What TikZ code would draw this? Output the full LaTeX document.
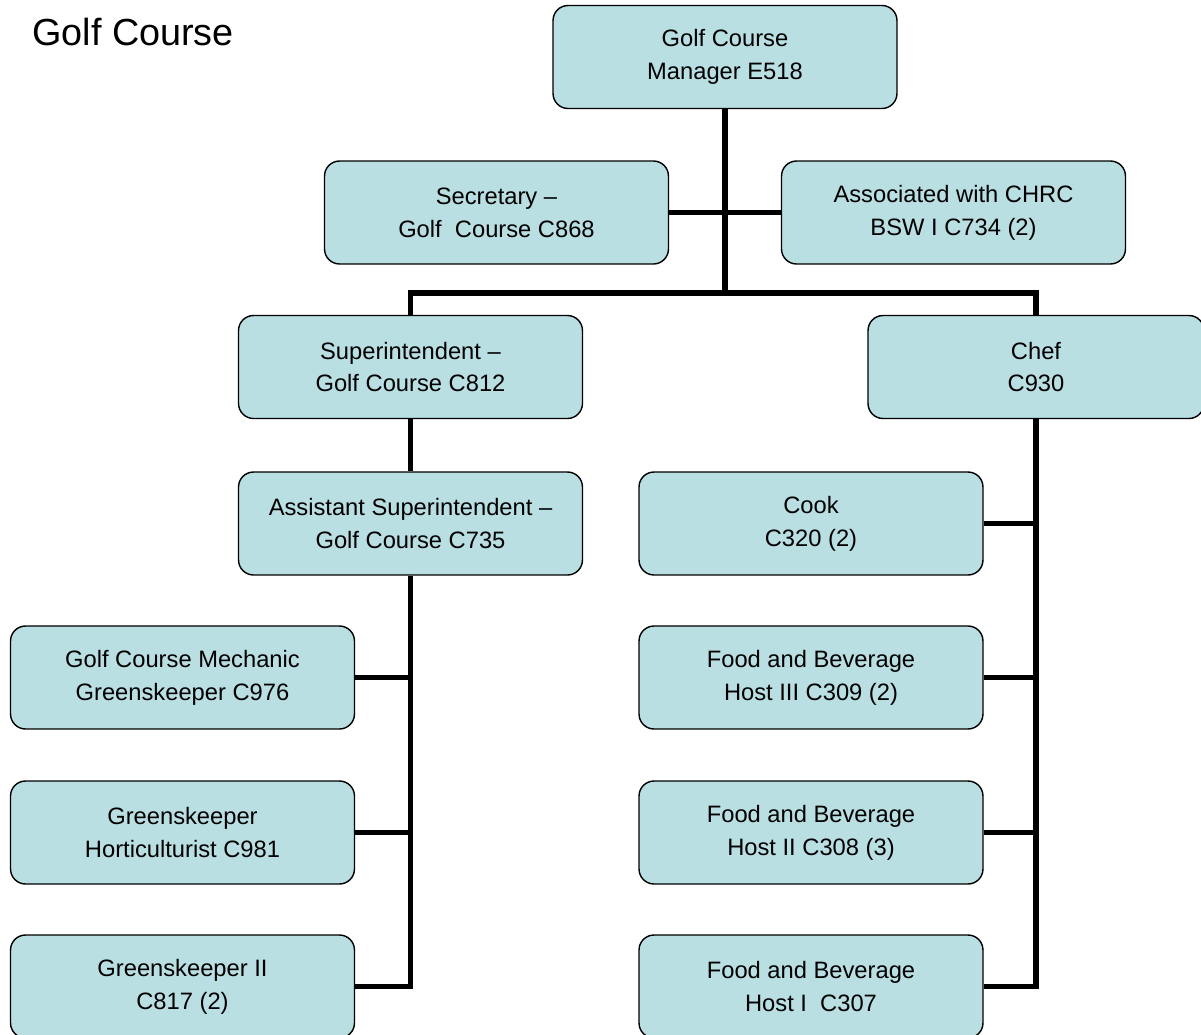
\documentclass[tikz,border=0pt]{standalone}
\usepackage{fontspec}
\setmainfont{Liberation Sans}
\definecolor{boxfill}{RGB}{185,223,227}
\tikzset{
  role/.style={draw=black, fill=boxfill, rounded corners=0.3cm, line width=0.8pt,
    minimum width=6.88cm, minimum height=2.06cm, align=center, inner sep=0pt,
    font=\fontsize{13.5}{18.7}\selectfont},
  link/.style={line width=3.2pt}
}

\begin{document}
\begin{tikzpicture}[x=0.02cm, y=-0.02cm]
\useasboundingbox (0,0) rectangle (1201,1035);
\node[anchor=base west, inner sep=0pt, font=\fontsize{21.5}{25}\selectfont] (title) at (32,45) {Golf Course};

% top level
\node[role] (mgr) at (725,57) {Golf Course\\Manager E518};
\node[role] (sec) at (496.5,212.5) {Secretary --\\Golf\ \ Course C868};
\node[role] (chrc) at (953.5,212.5) {Associated with CHRC\\BSW I C734 (2)};
\coordinate (bus) at (725,293);

% second level
\node[role] (sup) at (410.5,367) {Superintendent --\\Golf Course C812};
\node[role, minimum width=6.72cm] (chef) at (1036,367) {Chef\\C930};
\node[role] (asst) at (410.5,523.5) {Assistant Superintendent --\\Golf Course C735};
\node[role] (cook) at (811,523.5) {Cook\\C320 (2)};

% left branch
\node[role] (mech) at (182.5,677.5) {Golf Course Mechanic\\Greenskeeper C976};
\node[role] (hort) at (182.5,832.5) {Greenskeeper\\Horticulturist C981};
\node[role] (gk2) at (182.5,986.5) {Greenskeeper II\\C817 (2)};

% right branch
\node[role] (fb3) at (811,677.5) {Food and Beverage\\Host III C309 (2)};
\node[role] (fb2) at (811,832.5) {Food and Beverage\\Host II C308 (3)};
\node[role] (fb1) at (811,986.5) {Food and Beverage\\Host I\ \ C307};

% connectors
\draw[link] (mgr.south) -- (bus);
\draw[link] (sec.east) -- (chrc.west);
\draw[link] (sup.north) |- (bus) -| (chef.north);
\draw[link] (sup.south) -- (asst.north);
\draw[link] (asst.south) |- (gk2.east);
\foreach \n in {mech,hort}
  \draw[link] (\n.east) -- (\n.east -| asst.south);
\draw[link] (chef.south) |- (fb1.east);
\foreach \n in {cook,fb3,fb2}
  \draw[link] (\n.east) -- (\n.east -| chef.south);
\end{tikzpicture}
\end{document}
